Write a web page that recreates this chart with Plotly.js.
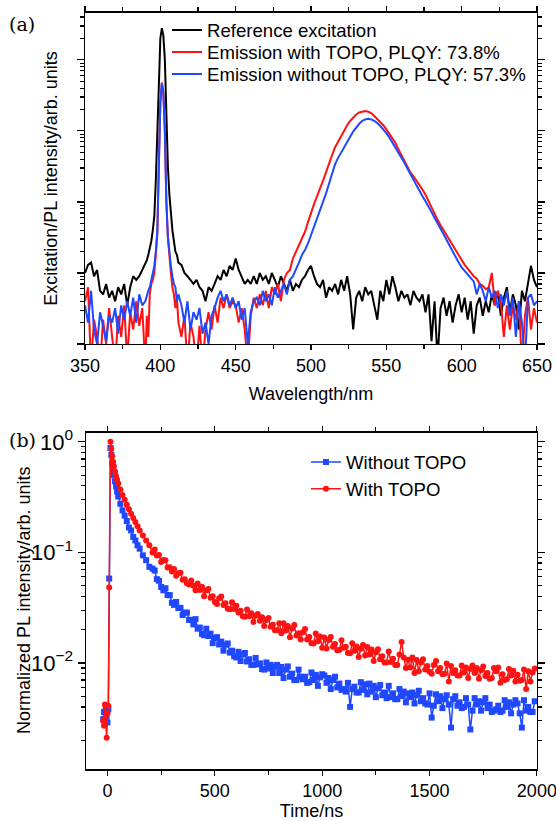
<!DOCTYPE html>
<html>
<head>
<meta charset="utf-8">
<script src="https://cdn.plot.ly/plotly-3.0.1.min.js"></script>
<style>html,body{margin:0;padding:0;background:#fff;}#chart{width:556px;height:821px;}</style>
</head>
<body>
<div id="chart"></div>
<script>
// ---------- Panel (a): spectra (arbitrary units, log scale) ----------
const wavelength = [
  350,352,354,356,358,360,362,364,366,368,
  370,372,374,376,378,380,382,384,386,388,
  390,391,392,393,394,395,396,397,398,399,
  400,401,402,403,404,405,406,407,408,409,
  410,411,412,414,416,418,420,422,424,426,
  428,430,432,434,436,438,440,442,444,446,
  448,450,452,454,456,458,460,462,464,466,
  468,470,472,474,476,478,480,482,484,486,
  488,490,492,494,496,498,500,502,504,506,
  508,510,512,514,516,518,520,522,524,526,
  528,530,532,534,536,538,540,542,544,546,
  548,550,552,554,556,558,560,562,564,566,
  568,570,572,574,576,578,580,582,584,586,
  588,590,592,594,596,598,600,602,604,606,
  608,610,612,614,616,618,620,622,624,626,
  628,630,632,634,636,638,640,642,644,646,
  648,650
];
const excitation = [
  10,13,14,9,11,5.6,5,7,4.5,5.6,
  4,6.3,5,7,3.5,6.3,9,8,9,11,
  14,15,18,22,28,40,63,200,1260,6300,
  20000,28000,22000,10000,1600,320,126,63,40,28,
  20,18,14,13,10,9,8,7,8,6.3,
  5.6,4,6.3,5.6,7,9,8,11,9,12.6,
  11,16,11,9,7,8,7,9,7,10,
  8,9,7,10,8,6.3,9,7,5.6,8,
  5.6,7,6.3,8,9,11,12.6,9,7,6.3,
  8,4.5,6.3,5.6,7,5,8,5.6,9,5,
  1.6,4.5,5.6,4,6.3,5,5.6,3.5,2.2,5.6,
  4,8,5,9,6.3,4,5.6,4.5,5,3.5,
  5.6,4.5,4,5,2.8,5,1.1,4,0.6,3.2,
  4.5,2.5,4,2,3.5,5,2.8,4.5,2.2,4,
  1.4,3.5,4.5,2.5,4,2.8,5,3.5,5.6,2.5,
  4.5,6.3,2.8,5,3.5,1.6,5.6,4,7,12.6,
  8,6.3
];
const emissionWithTOPO = [
  4,6.3,0.5,2.2,1.26,0.5,2.2,1,3.2,1.4,
  0.5,2.5,1.26,3.5,0.6,2.8,1.6,4,1.8,3.2,
  0.5,2.5,1.26,5,7,8,10,18,35,320,
  2500,4800,3500,1000,100,32,16,10,6.3,5,
  3.2,4.5,2,1.26,2.5,0.5,2,1.26,0.5,1.8,
  0.5,1.6,2.8,1.6,3.5,2,4.5,3.2,5,3.2,
  4,3.5,2,3.2,1.6,0.5,2.5,4.5,3.2,5,
  3.5,5.6,3.2,6.3,5,7,4,8,10,11,
  16,20,25,30,38,52,71,93,120,160,
  200,263,355,457,590,708,871,1020,1200,1380,
  1550,1700,1820,1860,1900,1860,1780,1620,1480,1350,
  1200,1050,910,790,680,550,460,370,310,260,
  230,200,174,150,126,102,83,68,56,47,
  40,33,28,24,21,18,15,13,11.5,10,
  9,8.3,7,6.6,5.9,6.3,10,3.5,5.6,4,
  1.26,3.5,1.6,3.5,2.2,4,0.5,2.5,4.5,1.6,
  3.2,2
];
const emissionWithoutTOPO = [
  3.5,2,5.6,1.6,1,2.8,1.8,1.1,2.5,2,
  3.2,1.4,3.5,2.2,4,2.5,4.5,2,5,3.5,
  4,5,5.6,6.3,8,9,12.6,20,40,320,
  2500,4700,3500,1000,100,32,18,12.6,9,7,
  6.3,4,5,3.5,2,4,1.6,2.8,2.2,3.2,
  1.4,2,1,2.5,3.2,4.5,5.6,4,5,3.5,
  4.5,3.2,4,2.2,3.2,1,2.8,4,4.5,3.5,
  5.6,4,5,3.5,6.3,4.5,5.6,7,5,8,
  9,11,14,18,21,26,34,43,58,76,
  100,132,182,250,340,417,500,590,690,830,
  980,1120,1260,1380,1450,1480,1450,1380,1290,1170,
  1050,930,810,690,590,500,430,355,295,245,
  204,170,141,120,102,87,72,60,51,42,
  35,29,24,20,17,14,12,10.7,9.3,8.3,
  7.6,5,7,5.6,4,6.3,4.5,5.6,3.2,5,
  3.5,5.6,2.5,4.5,1.26,4,2,0.5,4.5,5,
  3.5,4
];

// ---------- Panel (b): PL decay (normalized) ----------
const timeNs = [
  -20,-16,-12,-8,-4,0,4,8,14,
  18,22,26,30,35,40,45,50,
  60,70,80,90,100,110,120,130,140,150,
  165,180,195,
  210,220,230,240,250,260,270,280,290,300,
  310,320,330,340,350,360,370,380,390,400,
  410,420,430,440,450,460,470,480,490,500,
  510,520,530,540,550,560,570,580,590,600,
  610,620,630,640,650,660,670,680,690,700,
  710,720,730,740,750,760,770,780,790,800,
  810,820,830,840,850,860,870,880,890,900,
  910,920,930,940,950,960,970,980,990,1000,
  1010,1020,1030,1040,1050,1060,1070,1080,1090,1100,
  1110,1120,1130,1140,1150,1160,1170,1180,1190,1200,
  1210,1220,1230,1240,1250,1260,1270,1280,1290,1300,
  1310,1320,1330,1340,1350,1360,1370,1380,1390,1400,
  1410,1420,1430,1440,1450,1460,1470,1480,1490,1500,
  1510,1520,1530,1540,1550,1560,1570,1580,1590,1600,
  1610,1620,1630,1640,1650,1660,1670,1680,1690,1700,
  1710,1720,1730,1740,1750,1760,1770,1780,1790,1800,
  1810,1820,1830,1840,1850,1860,1870,1880,1890,1900,
  1910,1920,1930,1940,1950,1960,1970,1980,1990
];
const decayWithoutTOPO = [
  0.0031,0.0036,0.0028,0.0040,0.0033,0.0029,0.0038,0.058,0.88,
  0.76,0.64,0.56,0.50,0.44,0.395,0.355,0.32,
  0.275,0.24,0.215,0.192,0.168,0.158,0.138,0.128,0.116,0.108,
  0.094,0.085,0.074,
  0.0713,0.0685,0.0572,0.0553,0.0487,0.0454,0.0474,0.0411,0.0410,0.0350,
  0.0335,0.0356,0.0314,0.0315,0.0271,0.0285,0.0285,0.0245,0.0245,0.0223,
  0.0249,0.0204,0.0209,0.0183,0.0178,0.0204,0.0175,0.0184,0.0151,0.0168,
  0.0171,0.0147,0.0156,0.0129,0.0146,0.0150,0.0124,0.0129,0.0115,0.0112,
  0.0126,0.0104,0.0119,0.0123,0.0103,0.0108,0.0096,0.0096,0.0111,0.0097,
  0.0099,0.0088,0.0087,0.0101,0.0089,0.0096,0.0081,0.0092,0.0096,0.0081,
  0.0092,0.0073,0.0087,0.0093,0.0075,0.0080,0.0070,0.0070,0.0087,0.0075,
  0.0071,0.0075,0.0066,0.0067,0.0082,0.0070,0.0078,0.0062,0.0074,0.0079,
  0.0077,0.0066,0.0073,0.0058,0.0070,0.0075,0.0060,0.0065,0.0057,0.0058,
  0.0055,0.0066,0.0040,0.0058,0.0061,0.0054,0.0054,0.0067,0.0057,0.0064,
  0.0052,0.0065,0.0055,0.0062,0.0049,0.0059,0.0063,0.0051,0.0054,0.0048,
  0.0062,0.0049,0.0053,0.0047,0.0047,0.0058,0.0050,0.0055,0.0044,0.0053,
  0.0049,0.0054,0.0043,0.0051,0.0056,0.0045,0.0048,0.0043,0.0042,0.0053,
  0.0032,0.0041,0.0052,0.0045,0.0050,0.0039,0.0047,0.0051,0.0042,0.0026,
  0.0047,0.0050,0.0041,0.0044,0.0039,0.0040,0.0048,0.0042,0.0025,0.0037,
  0.0048,0.0042,0.0045,0.0037,0.0044,0.0048,0.0039,0.0042,0.0036,0.0037,
  0.0038,0.0041,0.0036,0.0037,0.0046,0.0040,0.0044,0.0035,0.0042,0.0046,
  0.0043,0.0035,0.0026,0.0046,0.0037,0.0040,0.0036,0.0036,0.0045
];
const decayWithTOPO = [
  0.0030,0.0027,0.0042,0.0033,0.0021,0.0035,0.0041,0.048,1.0,
  0.86,0.74,0.66,0.60,0.54,0.49,0.455,0.42,
  0.37,0.33,0.30,0.27,0.245,0.224,0.205,0.188,0.172,0.158,
  0.142,0.128,0.116,
  0.0998,0.106,0.0936,0.0946,0.0818,0.0855,0.0850,0.0730,0.0733,0.0670,
  0.0707,0.0616,0.0649,0.0653,0.0565,0.0570,0.0525,0.0513,0.0557,0.0500,
  0.0455,0.0523,0.0456,0.0488,0.0402,0.0452,0.0466,0.0388,0.0402,0.0355,
  0.0342,0.0385,0.0399,0.0334,0.0347,0.0309,0.0306,0.0354,0.0308,0.0329,
  0.0286,0.0297,0.0265,0.0262,0.0304,0.0264,0.0282,0.0235,0.0267,0.0277,
  0.0241,0.0259,0.0216,0.0245,0.0255,0.0212,0.0221,0.0197,0.0197,0.0229,
  0.0186,0.0228,0.0196,0.0216,0.0171,0.0205,0.0220,0.0177,0.0186,0.0163,
  0.0189,0.0203,0.0163,0.0172,0.0151,0.0150,0.0185,0.0157,0.0173,0.0137,
  0.0170,0.0135,0.0161,0.0172,0.0140,0.0148,0.0130,0.0131,0.0160,0.0137,
  0.0140,0.0123,0.0122,0.0151,0.0129,0.0141,0.0113,0.0134,0.0145,0.0117,
  0.0139,0.0119,0.0132,0.0104,0.0125,0.0133,0.0108,0.0115,0.0101,0.0101,
  0.0127,0.0102,0.0109,0.0096,0.0096,0.0119,0.0155,0.0112,0.0090,0.0107,
  0.0091,0.0112,0.0081,0.0106,0.0084,0.0101,0.0108,0.0087,0.0094,0.0083,
  0.0080,0.0096,0.0104,0.0084,0.0090,0.0079,0.0080,0.0099,0.0068,0.0094,
  0.0081,0.0086,0.0077,0.0077,0.0095,0.0082,0.0091,0.0073,0.0088,0.0095,
  0.0081,0.0090,0.0072,0.0086,0.0093,0.0076,0.0081,0.0072,0.0073,0.0090,
  0.0084,0.0091,0.0066,0.0079,0.0070,0.0071,0.0088,0.0077,0.0085,0.0068,
  0.0078,0.0069,0.0070,0.0087,0.0058,0.0084,0.0068,0.0082,0.0089
];

const decayTickVals = [0.01, 0.1, 1];
const decayTickText = ['10<sup>−2</sup>', '10<sup>−1</sup>', '10<sup>0</sup>'];

const BLACK = '#000000', RED = '#ff1212', BLUE = '#1f48ff';
const FONT = 'Liberation Sans, Arial, sans-serif';

const traces = [
  {x: wavelength, y: excitation, type: 'scatter', mode: 'lines', name: 'Reference excitation',
   line: {color: BLACK, width: 2}, xaxis: 'x', yaxis: 'y', legend: 'legend'},
  {x: wavelength, y: emissionWithTOPO, type: 'scatter', mode: 'lines', name: 'Emission with TOPO, PLQY: 73.8%',
   line: {color: RED, width: 2}, xaxis: 'x', yaxis: 'y', legend: 'legend2'},
  {x: wavelength, y: emissionWithoutTOPO, type: 'scatter', mode: 'lines', name: 'Emission without TOPO, PLQY: 57.3%',
   line: {color: BLUE, width: 2}, xaxis: 'x', yaxis: 'y', legend: 'legend3'},
  {x: timeNs, y: decayWithoutTOPO, type: 'scatter', mode: 'lines+markers', name: 'Without TOPO',
   line: {color: BLUE, width: 1.5}, marker: {symbol: 'square', size: 6, color: BLUE},
   xaxis: 'x2', yaxis: 'y2', legend: 'legend4'},
  {x: timeNs, y: decayWithTOPO, type: 'scatter', mode: 'lines+markers', name: 'With TOPO',
   line: {color: RED, width: 1.5}, marker: {symbol: 'circle', size: 6, color: RED},
   xaxis: 'x2', yaxis: 'y2', legend: 'legend5'}
];

const axisCommon = {
  showline: true, linecolor: '#000', linewidth: 1.5, mirror: 'ticks',
  ticks: 'outside', tickcolor: '#000', tickwidth: 1.2, showgrid: false, zeroline: false,
  ticklabeloverflow: 'allow',
  tickfont: {family: FONT, size: 18, color: '#000'}
};

function legendAt(x, y) {
  return {x: x, y: y, xanchor: 'left', yanchor: 'top', bgcolor: 'rgba(0,0,0,0)',
    font: {family: FONT, size: 18.6, color: '#000'}, tracegroupgap: 0, itemwidth: 30};
}

const layout = {
  width: 556, height: 821,
  margin: {l: 0, r: 0, t: 0, b: 0},
  paper_bgcolor: '#fff', plot_bgcolor: '#fff',
  font: {family: FONT, size: 18, color: '#000'},
  showlegend: true,
  xaxis: Object.assign({}, axisCommon, {
    domain: [0.1529, 0.9658], anchor: 'y', range: [350, 650], tick0: 350, dtick: 50, ticklen: 5,
    minor: {ticks: 'outside', dtick: 25, ticklen: 4, tickcolor: '#000'},
    title: {text: 'Wavelength/nm', standoff: 12, font: {family: FONT, size: 18}}
  }),
  yaxis: Object.assign({}, axisCommon, {
    domain: [0.581, 0.9842], anchor: 'x', type: 'log', range: [0, 4.66], dtick: 1, ticklen: 7,
    showticklabels: false,
    minor: {ticks: 'outside', dtick: 'D1', ticklen: 4, tickcolor: '#000'},
    title: {text: 'Excitation/PL intensity/arb. units', standoff: 14, font: {family: FONT, size: 18}}
  }),
  xaxis2: Object.assign({}, axisCommon, {
    domain: [0.1547, 0.9658], anchor: 'y2', range: [-100, 2000.5], tick0: 0, dtick: 500, ticklen: 5,
    minor: {ticks: 'outside', dtick: 250, ticklen: 4, tickcolor: '#000'},
    title: {text: 'Time/ns', standoff: 11, font: {family: FONT, size: 18}}
  }),
  yaxis2: Object.assign({}, axisCommon, {
    domain: [0.0633, 0.4726], anchor: 'x2', type: 'log', range: [-2.96, 0.08],
    tickmode: 'array', tickvals: decayTickVals, ticktext: decayTickText, ticklen: 7,
    tickfont: {family: FONT, size: 22, color: '#000'},
    minor: {ticks: 'outside', dtick: 'D1', ticklen: 4, tickcolor: '#000'}
  }),
  legend: legendAt(0.3004, 0.9862),
  legend2: legendAt(0.3004, 0.9594),
  legend3: legendAt(0.3004, 0.9326),
  legend4: legendAt(0.5504, 0.4600),
  legend5: legendAt(0.5504, 0.4272),
  annotations: [
    {text: '(a)', xref: 'paper', yref: 'paper', x: 0.0396, y: 0.9708, xanchor: 'center', yanchor: 'middle',
     showarrow: false, font: {family: 'DejaVu Serif, Liberation Serif, serif', size: 19, color: '#000'}},
    {text: '(b)', xref: 'paper', yref: 'paper', x: 0.0396, y: 0.464, xanchor: 'center', yanchor: 'middle',
     showarrow: false, font: {family: 'DejaVu Serif, Liberation Serif, serif', size: 19, color: '#000'}},
    {text: 'Normalized PL intensity/arb. units', xref: 'paper', yref: 'paper', x: 0.0432, y: 0.268,
     xanchor: 'center', yanchor: 'middle', textangle: -90, showarrow: false,
     font: {family: FONT, size: 18, color: '#000'}}
  ]
};

Plotly.newPlot('chart', traces, layout, {displayModeBar: false, staticPlot: true});
</script>
</body>
</html>
